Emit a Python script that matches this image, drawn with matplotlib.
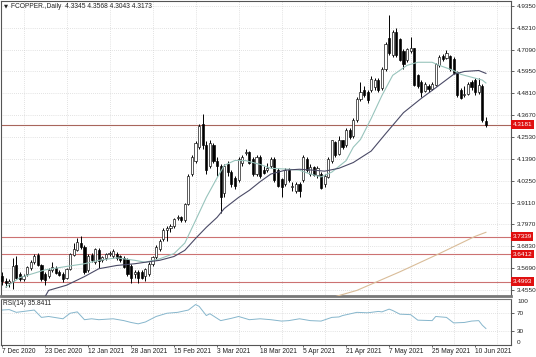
import matplotlib
matplotlib.use("Agg")
import matplotlib.pyplot as plt
import matplotlib.transforms as mtransforms

plt.rcParams['font.family'] = ['Liberation Sans', 'DejaVu Sans']

# FCOPPER daily candles, 7 Dec 2020 .. 15 Jun 2021 (12 bars per row)
opens = [3.53, 3.50, 3.49, 3.50, 3.585, 3.54, 3.51, 3.54, 3.57, 3.60, 3.64, 3.585,
         3.54, 3.53, 3.56, 3.57, 3.55, 3.54, 3.52, 3.565, 3.64, 3.665, 3.70, 3.68,
         3.56, 3.64, 3.60, 3.665, 3.61, 3.62, 3.645, 3.63, 3.645, 3.63, 3.62, 3.615,
         3.58, 3.54, 3.55, 3.55, 3.53, 3.54, 3.59, 3.625, 3.67, 3.72, 3.77, 3.78,
         3.79, 3.83, 3.835, 3.82, 3.905, 4.06, 4.13, 4.20, 4.32, 4.21, 4.10, 4.21,
         4.13, 4.10, 3.96, 4.11, 4.07, 4.04, 4.03, 4.12, 4.17, 4.175, 4.14, 4.06,
         4.15, 4.08, 4.08, 4.10, 4.14, 4.08, 4.035, 4.01, 4.08, 3.99, 3.97, 4.01,
         4.03, 4.14, 4.06, 4.095, 4.055, 4.06, 4.01, 4.045, 4.13, 4.225, 4.165, 4.235,
         4.21, 4.29, 4.26, 4.34, 4.45, 4.50, 4.49, 4.50, 4.515, 4.55, 4.51, 4.61,
         4.77, 4.68, 4.80, 4.765, 4.70, 4.655, 4.70, 4.715, 4.575, 4.54, 4.495, 4.52,
         4.505, 4.525, 4.63, 4.675, 4.665, 4.675, 4.66, 4.59, 4.50, 4.47, 4.48, 4.54,
         4.55, 4.49, 4.52, 4.3345]
highs = [3.55, 3.52, 3.51, 3.62, 3.63, 3.55, 3.54, 3.58, 3.61, 3.645, 3.65, 3.59,
         3.55, 3.57, 3.60, 3.58, 3.56, 3.55, 3.57, 3.65, 3.70, 3.725, 3.735, 3.69,
         3.645, 3.65, 3.675, 3.675, 3.63, 3.65, 3.66, 3.67, 3.655, 3.64, 3.63, 3.62,
         3.59, 3.56, 3.56, 3.56, 3.57, 3.60, 3.63, 3.69, 3.72, 3.78, 3.79, 3.80,
         3.83, 3.845, 3.84, 3.91, 4.06, 4.16, 4.23, 4.32, 4.375, 4.23, 4.24, 4.22,
         4.15, 4.11, 4.11, 4.13, 4.08, 4.05, 4.15, 4.16, 4.19, 4.18, 4.15, 4.16,
         4.16, 4.10, 4.12, 4.15, 4.15, 4.09, 4.04, 4.09, 4.09, 4.02, 4.02, 4.02,
         4.16, 4.15, 4.11, 4.10, 4.10, 4.07, 4.06, 4.15, 4.24, 4.23, 4.26, 4.24,
         4.30, 4.30, 4.35, 4.46, 4.54, 4.52, 4.50, 4.57, 4.56, 4.56, 4.62, 4.75,
         4.888, 4.81, 4.82, 4.77, 4.71, 4.72, 4.775, 4.72, 4.58, 4.55, 4.54, 4.53,
         4.54, 4.64, 4.68, 4.685, 4.705, 4.68, 4.67, 4.60, 4.51, 4.52, 4.54, 4.55,
         4.56, 4.56, 4.53, 4.3568]
lows = [3.48, 3.47, 3.47, 3.46, 3.51, 3.50, 3.50, 3.53, 3.56, 3.59, 3.58, 3.50,
        3.48, 3.52, 3.55, 3.54, 3.53, 3.495, 3.51, 3.56, 3.63, 3.66, 3.67, 3.54,
        3.55, 3.60, 3.59, 3.57, 3.60, 3.61, 3.635, 3.62, 3.61, 3.60, 3.57, 3.53,
        3.49, 3.52, 3.49, 3.51, 3.50, 3.53, 3.58, 3.61, 3.66, 3.71, 3.71, 3.76,
        3.78, 3.82, 3.81, 3.81, 3.90, 4.05, 4.12, 4.19, 4.19, 4.06, 4.09, 4.12,
        4.05, 3.855, 3.94, 4.05, 3.99, 3.98, 4.02, 4.10, 4.16, 4.11, 4.05, 4.05,
        4.04, 4.06, 4.07, 4.09, 4.02, 3.99, 3.94, 4.00, 4.02, 3.97, 3.96, 3.94,
        4.02, 4.07, 4.05, 4.05, 4.04, 3.98, 3.99, 4.04, 4.12, 4.15, 4.16, 4.19,
        4.20, 4.245, 4.25, 4.33, 4.44, 4.46, 4.43, 4.49, 4.50, 4.49, 4.50, 4.60,
        4.68, 4.67, 4.67, 4.65, 4.61, 4.645, 4.69, 4.52, 4.51, 4.46, 4.49, 4.49,
        4.50, 4.52, 4.62, 4.65, 4.66, 4.60, 4.58, 4.46, 4.45, 4.46, 4.47, 4.50,
        4.47, 4.48, 4.33, 4.3043]
closes = [3.50, 3.49, 3.50, 3.58, 3.52, 3.515, 3.53, 3.575, 3.60, 3.635, 3.585, 3.515,
          3.505, 3.56, 3.575, 3.545, 3.535, 3.51, 3.565, 3.645, 3.67, 3.705, 3.68, 3.55,
          3.635, 3.61, 3.67, 3.605, 3.625, 3.645, 3.65, 3.66, 3.62, 3.61, 3.575, 3.54,
          3.52, 3.55, 3.52, 3.52, 3.565, 3.59, 3.625, 3.68, 3.71, 3.77, 3.78, 3.79,
          3.825, 3.835, 3.82, 3.905, 4.05, 4.15, 4.22, 4.31, 4.21, 4.08, 4.22, 4.13,
          4.10, 3.94, 4.10, 4.07, 4.01, 4.00, 4.14, 4.15, 4.175, 4.12, 4.06, 4.15,
          4.05, 4.065, 4.09, 4.14, 4.03, 4.00, 3.99, 4.08, 4.03, 4.00, 4.01, 3.97,
          4.15, 4.08, 4.095, 4.055, 4.09, 3.985, 4.05, 4.14, 4.235, 4.16, 4.235, 4.20,
          4.29, 4.255, 4.34, 4.45, 4.49, 4.47, 4.445, 4.555, 4.55, 4.50, 4.61, 4.74,
          4.69, 4.80, 4.68, 4.655, 4.635, 4.71, 4.72, 4.525, 4.52, 4.49, 4.53, 4.505,
          4.53, 4.635, 4.67, 4.66, 4.69, 4.61, 4.585, 4.47, 4.455, 4.48, 4.53, 4.515,
          4.49, 4.525, 4.34, 4.3173]

# moving averages, read at a few bars
ma_fast_bars = [1, 5, 12, 18, 23, 27, 32, 37, 40, 44, 48, 51, 54, 57, 60, 62, 65, 68, 72, 75,
                80, 83, 86, 89, 92, 96, 98, 100, 103, 106, 109, 113, 116, 120, 122, 126, 128,
                131, 134, 135]
ma_fast = [3.47, 3.52, 3.56, 3.578, 3.592, 3.61, 3.623, 3.61, 3.60, 3.618, 3.645, 3.70,
           3.818, 3.938, 4.04, 4.105, 4.131, 4.13, 4.11, 4.09, 4.085, 4.08, 4.06, 4.045,
           4.07, 4.13, 4.20, 4.24, 4.35, 4.47, 4.575, 4.627, 4.643, 4.643, 4.627, 4.60,
           4.58, 4.565, 4.55, 4.535]
ma_slow_bars = [12, 13, 18, 23, 27, 32, 37, 40, 44, 48, 51, 54, 57, 60, 62, 66, 69, 72, 75,
                79, 83, 87, 90, 94, 98, 103, 107, 112, 117, 121, 126, 129, 133, 135]
ma_slow = [3.42, 3.453, 3.48, 3.525, 3.566, 3.583, 3.592, 3.60, 3.61, 3.63, 3.662, 3.724,
           3.782, 3.834, 3.88, 3.938, 3.975, 4.02, 4.06, 4.08, 4.085, 4.08, 4.075, 4.09,
           4.12, 4.18, 4.27, 4.38, 4.455, 4.51, 4.58, 4.595, 4.60, 4.585]
ma_long_bars = [91, 99, 111, 122, 132, 135]
ma_long = [3.41, 3.453, 3.55, 3.645, 3.735, 3.756]

# RSI(14)
rsi_bars = [0, 2, 4, 9, 11, 13, 17, 19, 21, 23, 25, 27, 31, 34, 36, 38, 40, 43, 46, 49,
            52, 54, 55, 57, 58, 61, 64, 66, 69, 72, 75, 78, 80, 83, 86, 89, 92, 94, 95, 99,
            102, 105, 106, 108, 109, 111, 114, 116, 120, 121, 124, 126, 129, 131, 133, 134, 135]
rsi = [76, 77, 71, 76, 60, 62, 57, 69, 72, 55, 57, 55, 57, 53, 49, 46, 50, 62, 69, 71,
       76, 88, 84, 64, 68, 53, 58, 62, 55, 57, 55, 52, 53, 57, 53, 52, 60, 61, 64, 71,
       70, 73, 72, 78, 75, 67, 66, 54, 53, 62, 60, 48, 49, 52, 53, 43, 35.8]

price_ticks = [4.9350, 4.8210, 4.7090, 4.5950, 4.4810, 4.3670, 4.2530, 4.1390,
               4.0250, 3.9110, 3.7970, 3.6830, 3.5690, 3.4550]
level_lines = [3.7339, 3.6412, 3.4993]
last_price = 4.3181
date_bars = [0, 12, 24, 36, 48, 60, 72, 84, 96, 108, 120, 132]
date_labels = ['7 Dec 2020', '23 Dec 2020', '12 Jan 2021', '28 Jan 2021', '15 Feb 2021',
               '3 Mar 2021', '18 Mar 2021', '5 Apr 2021', '21 Apr 2021', '7 May 2021',
               '25 May 2021', '10 Jun 2021']

W, H = 536, 357
fig = plt.figure(figsize=(W / 100, H / 100), dpi=100)
ax = fig.add_axes([1 / W, 1 - 296 / H, 510 / W, 295 / H])
rax = fig.add_axes([1 / W, 1 - 345 / H, 510 / W, 46 / H], sharex=ax)

grid_kw = dict(color='#c8c8c8', lw=0.5, ls=(0, (1, 2)))
for a in (ax, rax):
    for s in a.spines.values():
        s.set_color('#555555')
        s.set_linewidth(0.8)
    a.yaxis.tick_right()
    a.tick_params(axis='y', length=2, width=0.5, pad=2, labelsize=4.6, colors='#222222')
    a.set_xticks(range(0, 140, 6), minor=True)
    a.grid(True, which='minor', axis='x', **grid_kw)
    a.set_axisbelow(True)
ax.spines['bottom'].set_linewidth(2)
ax.spines['bottom'].set_color('#777777')
rax.spines['top'].set_color('#777777')

# candles
idx = list(range(len(closes)))
body_lo = [min(o, c) for o, c in zip(opens, closes)]
body_h = [max(abs(c - o), 0.002) for o, c in zip(opens, closes)]
fills = ['white' if c >= o else 'black' for o, c in zip(opens, closes)]
ax.vlines(idx, lows, highs, color='black', lw=0.7, zorder=2)
ax.bar(idx, body_h, bottom=body_lo, width=0.6, color=fills, edgecolor='black',
       linewidth=0.45, zorder=3)

ax.plot(ma_long_bars, ma_long, color='#d9bc98', lw=0.8, zorder=4)
ax.plot(ma_fast_bars, ma_fast, color='#98c4bc', lw=0.8, zorder=4)
ax.plot(ma_slow_bars, ma_slow, color='#4a4a66', lw=0.8, zorder=4)

for lv in level_lines:
    ax.axhline(lv, color='#cc7272', lw=0.8, zorder=1)
ax.axhline(last_price, color='#a8665c', lw=0.8, zorder=1)

ax.set_xlim(-0.28, 142.0)
ax.set_ylim(3.4238, 4.9626)
ax.set_yticks(price_ticks)
ax.set_yticklabels(['%.4f' % p for p in price_ticks])
ax.grid(True, axis='y', **grid_kw)
ax.tick_params(axis='x', which='both', length=0, labelbottom=False)

trans = mtransforms.blended_transform_factory(ax.transAxes, ax.transData)
for lv in level_lines + [last_price]:
    ax.text(1.003, lv, '%.4f' % lv, transform=trans, ha='left', va='center', fontsize=4.6,
            color='white', bbox=dict(boxstyle='square,pad=0.25', fc='#e01010', ec='none'),
            clip_on=False, zorder=6)

ax.text(0.006, 0.993, '\u25bc', transform=ax.transAxes, ha='left', va='top', fontsize=3.8,
        color='#222222', family=['DejaVu Sans'])
ax.text(0.019, 0.993, 'FCOPPER.,Daily  4.3345 4.3568 4.3043 4.3173', transform=ax.transAxes,
        ha='left', va='top', fontsize=4.8, color='#222222')

# RSI panel
rax.plot(rsi_bars, rsi, color='#86b6cc', lw=0.7)
rax.set_ylim(0, 100)
rax.set_yticks([30, 70])
rax.set_yticklabels(['30', '70'])
rax.grid(True, axis='y', **grid_kw)
rtrans = mtransforms.blended_transform_factory(rax.transAxes, rax.transData)
rax.text(1.012, 100, '100', transform=rtrans, ha='left', va='top', fontsize=4.6, color='#222222')
rax.text(1.012, 0, '0', transform=rtrans, ha='left', va='bottom', fontsize=4.6, color='#222222')
rax.text(0.004, 0.97, 'RSI(14) 35.8411', transform=rax.transAxes, ha='left', va='top',
         fontsize=4.8, color='#222222')

rax.set_xticks(date_bars)
rax.set_xticklabels(date_labels)
rax.tick_params(axis='x', which='major', length=1.5, width=0.5, pad=0.8, labelsize=4.8,
                colors='#222222')
rax.tick_params(axis='x', which='minor', length=0)
for lab in rax.get_xticklabels():
    lab.set_horizontalalignment('left')

fig.savefig('out.png', dpi=100, facecolor='white')
